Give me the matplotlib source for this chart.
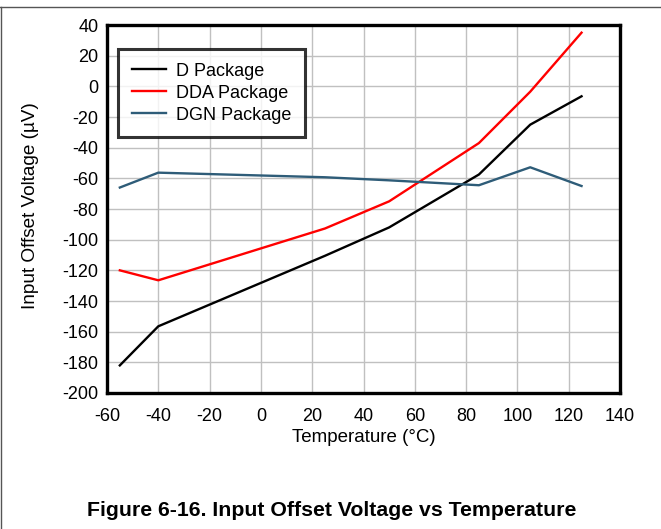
import matplotlib
matplotlib.use("Agg")
import matplotlib.pyplot as plt
from matplotlib.lines import Line2D

plt.rcParams['font.family'] = ['Liberation Sans', 'DejaVu Sans']

temps = [-55, -40, 25, 50, 85, 105, 125]
d_pkg = [-182, -156.5, -110.5, -92, -57.5, -25, -6.5]
dda_pkg = [-120, -126.5, -92.7, -75, -37, -3.5, 35]
dgn_pkg = [-66, -56.3, -59.3, -61.3, -64.5, -52.8, -65]

series_names = ["D Package", "DDA Package", "DGN Package"]
series_colors = ["#000000", "#ff0000", "#2e5c78"]

xticks = list(range(-60, 141, 20))
yticks = list(range(-200, 41, 20))

fig = plt.figure(figsize=(6.61, 5.29), dpi=100)
ax = fig.add_axes([107/661, 1-393/529, (620-107)/661, (393-25)/529])

for vals, name, col in zip([d_pkg, dda_pkg, dgn_pkg], series_names, series_colors):
    ax.plot(temps, vals, color=col, lw=1.7, label=name)

ax.set_xlim(-60, 140)
ax.set_ylim(-200, 40)
ax.set_xticks(xticks)
ax.set_yticks(yticks)
ax.set_xticklabels([str(t) for t in xticks])
ax.set_yticklabels([str(t) for t in yticks])
ax.tick_params(length=0, labelsize=13)
ax.tick_params(axis='x', pad=10.5)
ax.tick_params(axis='y', pad=6)
ax.grid(True, color="#c0c0c0", lw=1.0)
ax.set_axisbelow(True)
for s in ax.spines.values():
    s.set_linewidth(2.4)
    s.set_color("black")

ax.set_xlabel("Temperature (°C)", fontsize=13.5)
ax.xaxis.label.set_va('center')
ax.xaxis.set_label_coords(0.5, (393-437)/368)
ax.set_ylabel("Input Offset Voltage (µV)", fontsize=13.7)
ax.yaxis.label.set_va('center')
ax.yaxis.set_label_coords((31-107)/513, (393-206)/368)

leg = ax.legend(loc="upper left", bbox_to_anchor=((118-107)/513, (393-49)/368),
                fontsize=13, frameon=True, fancybox=False, borderpad=0.75,
                handlelength=1.9, handletextpad=0.55, labelspacing=0.28, borderaxespad=0)
leg.get_frame().set_edgecolor("black")
leg.get_frame().set_linewidth(2.2)

fig.text(332/661, 1-510/529, "Figure 6-16. Input Offset Voltage vs Temperature",
         ha="center", va="center", fontsize=15.3, fontweight="bold")

# figure border lines
fig.add_artist(Line2D([0, 1], [1-7/529, 1-7/529], transform=fig.transFigure, color="#555555", lw=1.0))
fig.add_artist(Line2D([0.5/661, 0.5/661], [0, 1-7/529], transform=fig.transFigure, color="#555555", lw=1.0))

fig.savefig("out.png", dpi=100)
